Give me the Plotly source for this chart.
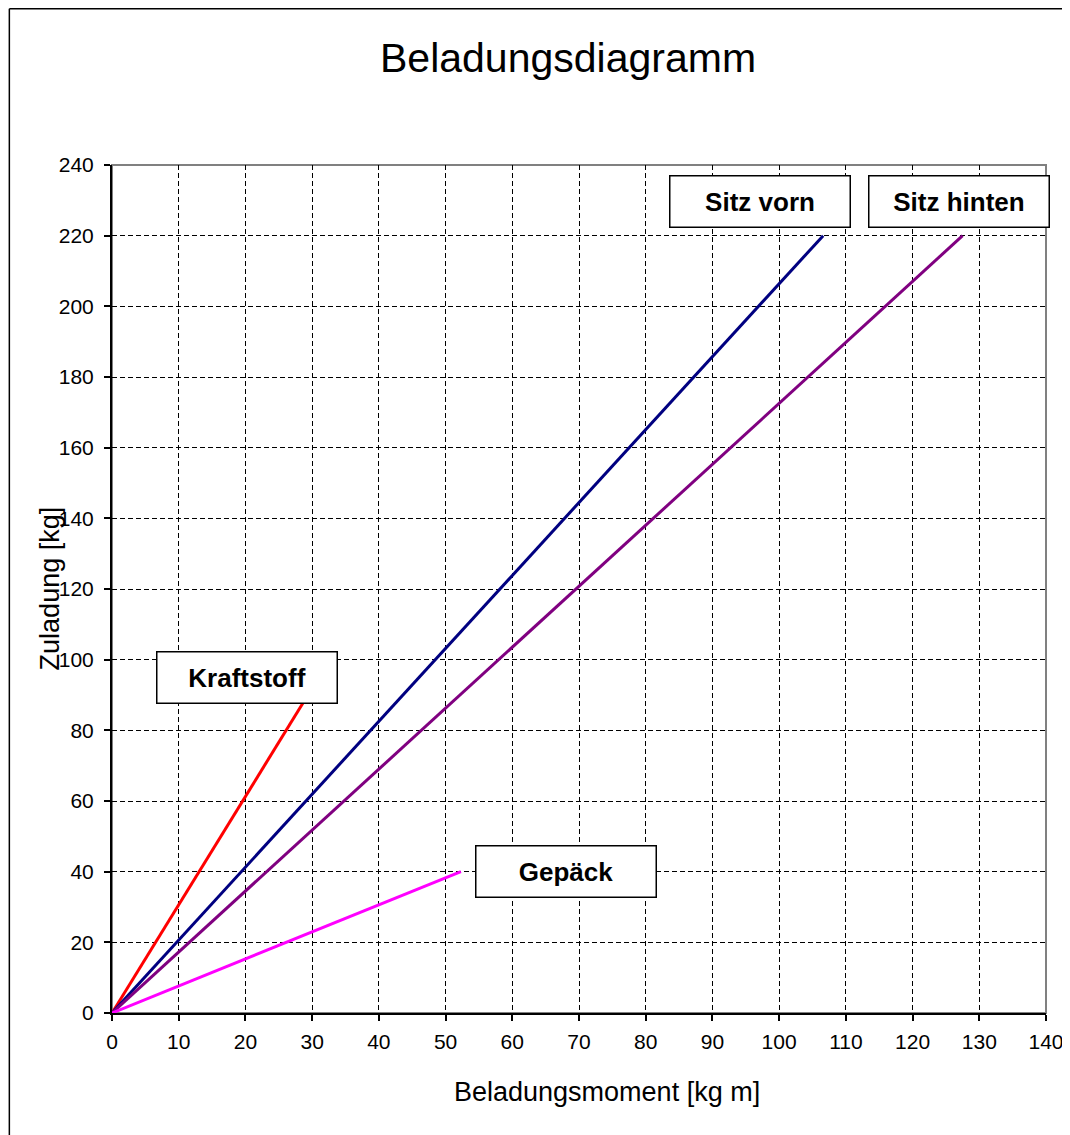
import plotly.graph_objects as go

# ---- data ----
series_names = ["Kraftstoff", "Sitz vorn", "Sitz hinten", "Gepäck"]
moment_start = [0, 0, 0, 0]
moment_end = [31.0, 106.6, 127.5, 52.3]
mass_start = [0, 0, 0, 0]
mass_end = [95, 220, 220, 40]
series_colors = ["#FF0000", "#000080", "#800080", "#FF00FF"]

x_ticks = [0, 10, 20, 30, 40, 50, 60, 70, 80, 90, 100, 110, 120, 130, 140]
y_ticks = [0, 20, 40, 60, 80, 100, 120, 140, 160, 180, 200, 220, 240]

label_texts = ["Kraftstoff", "Sitz vorn", "Sitz hinten", "Gepäck"]
label_x = [20.3, 97.1, 126.9, 68.0]
label_y = [94.9, 229.6, 229.6, 40.0]

# page body has an 8px margin, so figure pixel = reference pixel - 8
OFF = 8
W, H = 1062, 1127
ML = 111.5 - OFF
MT = 165 - OFF
MR = W - (1046.4 - OFF)
MB = H - (1013.3 - OFF)
PW = W - ML - MR
PH = H - MT - MB

FONT = "Liberation Sans, Arial, sans-serif"

fig = go.Figure()
for i, name in enumerate(series_names):
    fig.add_trace(go.Scatter(
        x=[moment_start[i], moment_end[i]],
        y=[mass_start[i], mass_end[i]],
        mode="lines", name=name,
        line=dict(color=series_colors[i], width=3),
        showlegend=False, cliponaxis=True,
    ))

for t, xx, yy in zip(label_texts, label_x, label_y):
    fig.add_annotation(
        x=xx, y=yy, xref="x", yref="y", text="<b>" + t + "</b>",
        showarrow=False, font=dict(family=FONT, size=26, color="black"),
        bgcolor="white", bordercolor="black", borderwidth=1.5,
        width=179, height=50, borderpad=0,
    )

def px2paper_x(px):
    return (px - OFF - ML) / PW

def px2paper_y(py):
    return (H - MB - (py - OFF)) / PH

# outer chart border (left and top edges visible)
fig.add_shape(type="line", xref="paper", yref="paper",
              x0=px2paper_x(8.75), x1=px2paper_x(8.75),
              y0=px2paper_y(1140), y1=px2paper_y(8.75),
              line=dict(color="black", width=1.5), layer="below")
fig.add_shape(type="line", xref="paper", yref="paper",
              x0=px2paper_x(8.75), x1=px2paper_x(1075),
              y0=px2paper_y(8.75), y1=px2paper_y(8.75),
              line=dict(color="black", width=1.5), layer="below")
# plot area border (gray)
fig.add_shape(type="rect", xref="paper", yref="paper",
              x0=0, x1=1, y0=0, y1=1,
              line=dict(color="#808080", width=2), layer="below")

fig.add_annotation(x=px2paper_x(568), y=px2paper_y(58), xref="paper", yref="paper",
                   xanchor="center", yanchor="middle",
                   text="Beladungsdiagramm", showarrow=False,
                   font=dict(family=FONT, size=41, color="black"))
fig.add_annotation(x=px2paper_x(607), y=px2paper_y(1092), xref="paper", yref="paper",
                   xanchor="center", yanchor="middle",
                   text="Beladungsmoment [kg m]", showarrow=False,
                   font=dict(family=FONT, size=27, color="black"))
fig.add_annotation(x=px2paper_x(49), y=px2paper_y(589), xref="paper", yref="paper",
                   xanchor="center", yanchor="middle",
                   text="Zuladung [kg]", showarrow=False, textangle=-90,
                   font=dict(family=FONT, size=27, color="black"))

axis_common = dict(
    showgrid=True, gridcolor="black", gridwidth=1, griddash="5px,3px",
    showline=True, linecolor="black", linewidth=2,
    ticks="outside", ticklen=6, tickcolor="black", tickwidth=1.5,
    tickfont=dict(family=FONT, size=21, color="black"),
    zeroline=False, fixedrange=True,
)
fig.update_xaxes(range=[0, 140], tickvals=x_ticks, ticklabelstandoff=3, **axis_common)
fig.update_yaxes(range=[0, 240], tickvals=y_ticks, ticklabelstandoff=6, **axis_common)

fig.update_layout(
    width=W, height=H,
    margin=dict(l=ML, r=MR, t=MT, b=MB, autoexpand=False),
    paper_bgcolor="white", plot_bgcolor="white",
    font=dict(family=FONT),
)

fig.write_html("out.html")
